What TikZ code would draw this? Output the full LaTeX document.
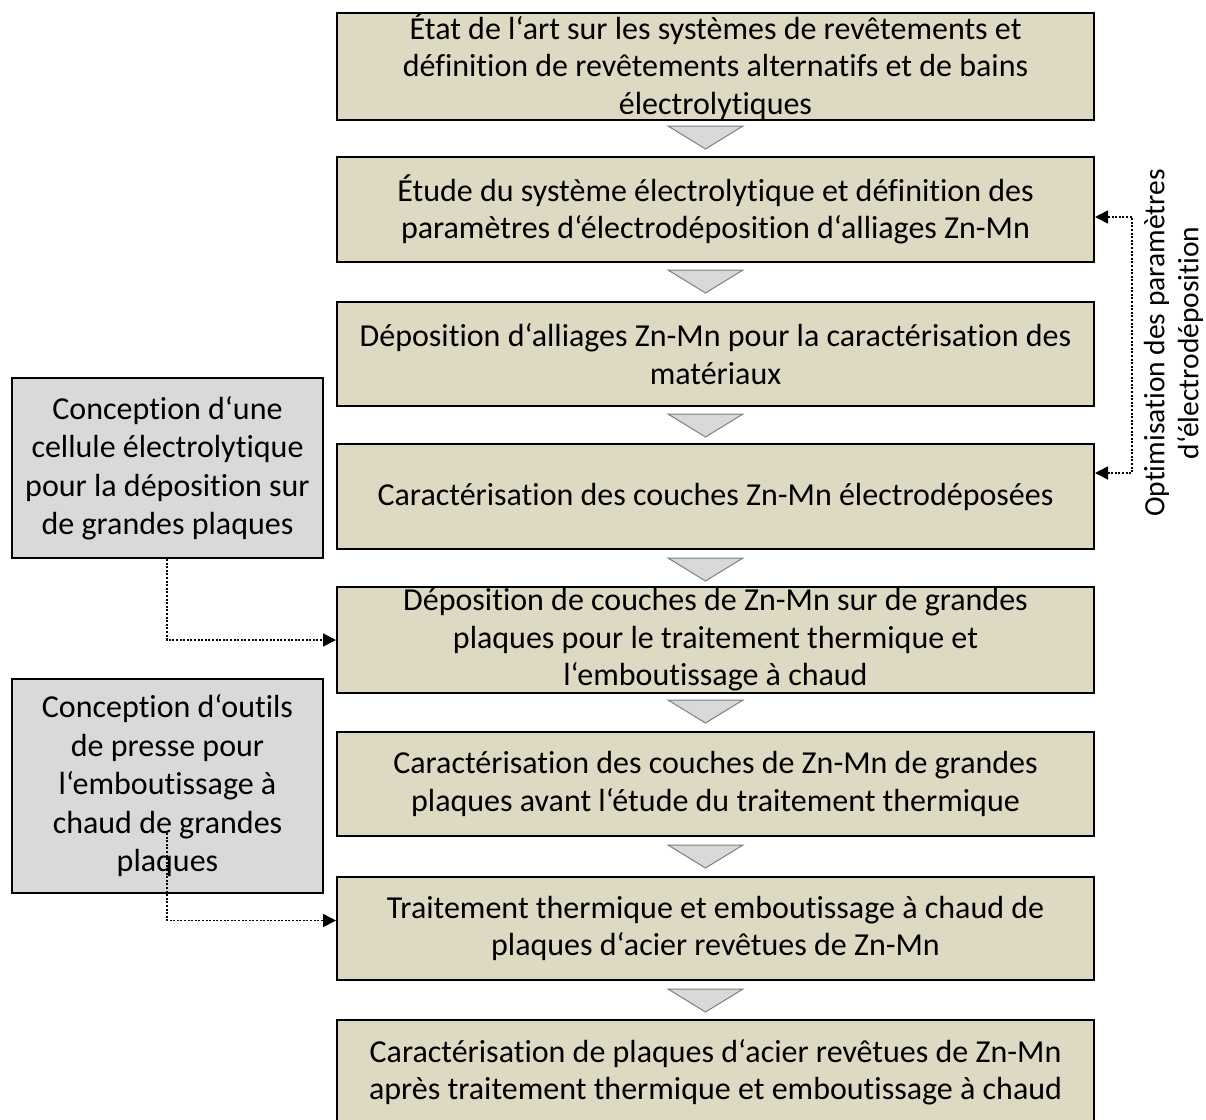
\documentclass[tikz,border=0pt]{standalone}
\usepackage{fontspec}
\setmainfont{Carlito}[Ligatures=NoCommon]
\usetikzlibrary{arrows.meta}
\definecolor{beige}{HTML}{DDD9C3}
\definecolor{lgray}{HTML}{D9D9D9}
\definecolor{tgray}{HTML}{7F7F7F}
\tikzset{
  mainbox/.style={draw=black, line width=2pt, fill=beige, minimum width=757pt, inner sep=0pt, align=center, font=\fontsize{32}{37.5}\selectfont},
  sidebox/.style={draw=black, line width=2pt, fill=lgray, minimum width=311pt, inner sep=0pt, align=center, font=\fontsize{32}{38.5}\selectfont},
  tri/.style={draw=tgray, line width=1pt, fill=lgray, line join=miter},
  conn/.style={line width=1.6pt, dash pattern=on 2pt off 1.6pt, -{Triangle[length=13pt,width=13pt]}},
  conn2/.style={line width=1.6pt, dash pattern=on 2pt off 1.6pt, {Triangle[length=13pt,width=13pt]}-{Triangle[length=13pt,width=13pt]}},
  sidelabel/.style={rotate=90, align=center, inner sep=0pt, font=\fontsize{29.5}{34}\selectfont}
}
\begin{document}
\begin{tikzpicture}[x=1pt,y=-1pt]
\useasboundingbox (0,0) rectangle (1206,1119);
\fill[white] (0,0) rectangle (1206,1119);
% main boxes
\node[mainbox, minimum height=107pt] (b1) at (715.5,66) {État de l‘art sur les systèmes de revêtements et\\définition de revêtements alternatifs et de bains\\électrolytiques};
\node[mainbox, minimum height=105pt] (b2) at (715.5,209.5) {Étude du système électrolytique et définition des\\paramètres d‘électrodéposition d‘alliages Zn-Mn};
\node[mainbox, minimum height=104pt] (b3) at (715.5,354) {Déposition d‘alliages Zn-Mn pour la caractérisation des\\matériaux};
\node[mainbox, minimum height=105pt] (b4) at (715.5,496.5) {Caractérisation des couches Zn-Mn électrodéposées};
\node[mainbox, minimum height=106pt] (b5) at (715.5,640) {Déposition de couches de Zn-Mn sur de grandes\\plaques pour le traitement thermique et\\l‘emboutissage à chaud};
\node[mainbox, minimum height=104pt] (b6) at (715.5,784) {Caractérisation des couches de Zn-Mn de grandes\\plaques avant l‘étude du traitement thermique};
\node[mainbox, minimum height=103pt] (b7) at (715.5,928.5) {Traitement thermique et emboutissage à chaud de\\plaques d‘acier revêtues de Zn-Mn};
\node[mainbox, minimum height=104pt] (b8) at (715.5,1072) {Caractérisation de plaques d‘acier revêtues de Zn-Mn\\après traitement thermique et emboutissage à chaud};
% side boxes
\node[sidebox, minimum height=180pt] (s1) at (167.5,468) {Conception d‘une\\cellule électrolytique\\pour la déposition sur\\de grandes plaques};
\node[sidebox, minimum height=214pt] (s2) at (167.5,786) {Conception d‘outils\\de presse pour\\l‘emboutissage à\\chaud de grandes\\plaques};
% triangles
\foreach \t in {126,270,414,558,700,845,989}{
  \draw[tri] (668,\t) -- (743,\t) -- (705.5,\t+23) -- cycle;
}
% connectors
\coordinate (c1) at (167,833);
\draw[conn] (s1.south -| c1) |- (b5.west);
\draw[conn] (c1) |- ([yshift=8pt]b7.west);
\coordinate (r) at (1132,0);
\draw[conn2] ([yshift=23.5pt]b4.east) -- ([yshift=23.5pt]b4.east -| r) -- ([yshift=-7.5pt]b2.east -| r) -- ([yshift=-7.5pt]b2.east);
% rotated label
\node[sidelabel] (lab) at (1173.5,343) {Optimisation des paramètres\\d‘électrodéposition};
\end{tikzpicture}
\end{document}
